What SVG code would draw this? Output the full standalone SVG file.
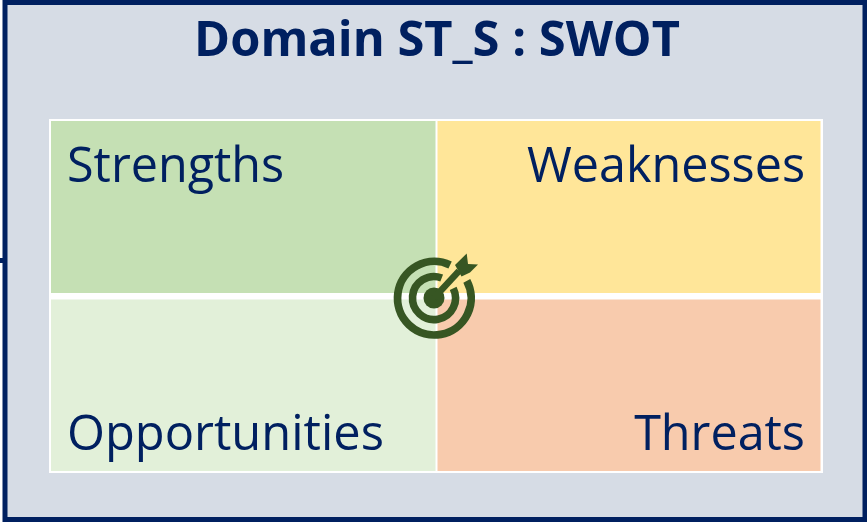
<svg xmlns="http://www.w3.org/2000/svg" width="867" height="522" viewBox="0 0 867 522">
<style>
.t{font-family:"Open Sans","Noto Sans",sans-serif;fill:#002060;font-size:48.500px}
.r{fill:none;stroke:#375623;stroke-linecap:butt}
</style>
<rect width="867" height="522" fill="#fff"/>
<g id="frame"><rect x="5" y="2.500" width="860" height="517" fill="#d6dce5" stroke="#002060" stroke-width="5"/><rect x="0" y="258" width="4" height="5" fill="#002060"/></g>
<g id="title"><text x="437" y="56" text-anchor="middle" class="t" style="font-size:48.800px;font-weight:700">Domain ST_S : SWOT</text></g>
<rect x="49" y="119" width="774" height="354" fill="#fff"/>
<g id="strengths"><rect x="51" y="121" width="384.500" height="172" fill="#c5e0b4"/><text class="t" x="67" y="182">Strengths</text></g>
<g id="weaknesses"><rect x="437.500" y="121" width="383" height="172" fill="#ffe699"/><text class="t" x="805" y="182" text-anchor="end">Weaknesses</text></g>
<g id="opportunities"><rect x="51" y="299.500" width="384.500" height="171.500" fill="#e2f0d9"/><text class="t" x="67" y="450" style="font-size:48.800px">Opportunities</text></g>
<g id="threats"><rect x="437.500" y="299.500" width="383" height="171.500" fill="#f8cbad"/><text class="t" x="805" y="450" text-anchor="end">Threats</text></g>
<g id="target">
<path class="r" stroke-width="7.800" d="M450.100 264.900A36.800 36.800 0 1 0 466.800 280.800"/>
<path class="r" stroke-width="7.600" d="M441.700 278A21.500 21.500 0 1 0 453.200 288.400"/>
<circle cx="434" cy="298" r="10.500" fill="#375623"/>
<path d="M434 298L459 271" stroke="#375623" stroke-width="6.500"/>
<path d="M455 265L466.700 253.500L468 264L478 264.500L470 272.500L461.500 276.500Z" fill="#375623"/>
</g>
</svg>
